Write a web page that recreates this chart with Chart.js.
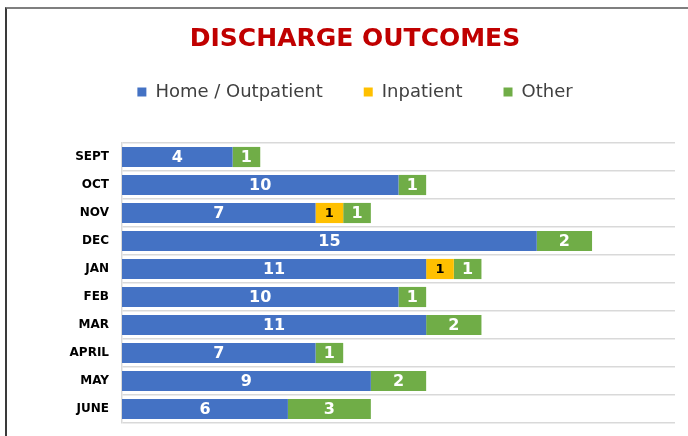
<!DOCTYPE html>
<html>
<head>
<meta charset="utf-8">
<script src="https://cdn.jsdelivr.net/npm/chart.js@4.4.1/dist/chart.umd.min.js"></script>
<style>
  html, body { margin: 0; padding: 0; background: #fff; }
  #wrap { position: relative; width: 688px; height: 436px; overflow: hidden; }
  #frame { position: absolute; left: 5px; top: 7px; width: 700px; height: 440px;
           border-top: 2px solid #7f7f7f; border-left: 2px solid #3a3a3a; }
  #chart-box { position: absolute; left: 0; top: 0; width: 688px; height: 436px; }
</style>
</head>
<body>
<div id="wrap">
  <div id="frame"></div>
  <div id="chart-box"><canvas id="discharge-chart"></canvas></div>
</div>
<script>
const months = ['SEPT', 'OCT', 'NOV', 'DEC', 'JAN', 'FEB', 'MAR', 'APRIL', 'MAY', 'JUNE'];
const homeOutpatient = [4, 10, 7, 15, 11, 10, 11, 7, 9, 6];
const inpatient = [0, 0, 1, 0, 1, 0, 0, 0, 0, 0];
const other = [1, 1, 1, 2, 1, 1, 2, 1, 2, 3];

const FONT = "'DejaVu Sans', sans-serif";

// value labels in the middle of each segment, zeros are left out like the original
const segmentLabels = {
  id: 'segmentLabels',
  afterDatasetsDraw(chart) {
    const ctx = chart.ctx;
    ctx.save();
    ctx.textAlign = 'center';
    ctx.textBaseline = 'middle';
    chart.data.datasets.forEach((ds, di) => {
      const meta = chart.getDatasetMeta(di);
      meta.data.forEach((bar, i) => {
        const v = ds.data[i];
        if (!v) return;
        ctx.fillStyle = ds.labelColor;
        ctx.font = ds.labelFont;
        ctx.fillText(String(v), (bar.x + bar.base) / 2, bar.y + 1);
      });
    });
    ctx.restore();
  }
};

new Chart(document.getElementById('discharge-chart').getContext('2d'), {
  type: 'bar',
  data: {
    labels: months,
    datasets: [
      { label: 'Home / Outpatient', data: homeOutpatient, backgroundColor: '#4472C4',
        labelColor: '#ffffff', labelFont: `bold 16px ${FONT}` },
      { label: 'Inpatient', data: inpatient, backgroundColor: '#FFC000',
        labelColor: '#000000', labelFont: `bold 13px ${FONT}` },
      { label: 'Other', data: other, backgroundColor: '#70AD47',
        labelColor: '#ffffff', labelFont: `bold 16px ${FONT}` }
    ]
  },
  options: {
    indexAxis: 'y',
    responsive: true,
    maintainAspectRatio: false,
    animation: false,
    categoryPercentage: 1,
    barPercentage: 0.72,
    // title and legend sit right of the canvas centre in the original, hence the uneven sides
    layout: { padding: { left: 35, right: 13, top: 0, bottom: 13 } },
    plugins: {
      title: {
        display: true,
        text: 'DISCHARGE OUTCOMES',
        color: '#C00000',
        font: { family: FONT, size: 25, weight: 'bold' },
        padding: { top: 24, bottom: -12 }
      },
      legend: {
        position: 'top',
        labels: { font: { family: FONT, size: 18 }, color: '#404040', boxWidth: 9, boxHeight: 9, padding: 41 }
      },
      tooltip: { enabled: false }
    },
    scales: {
      x: {
        stacked: true, min: 0, max: 20, position: 'top',
        grid: { display: false }, border: { display: false },
        ticks: { display: false },
        afterFit: (s) => { s.height = 32; }
      },
      y: {
        stacked: true,
        // the gap before the labels comes from an invisible tick, tick padding would pad the whole chart
        grid: { color: '#d9d9d9', lineWidth: 1.5, drawTicks: true, tickLength: 13, tickColor: 'transparent' },
        border: { color: '#d9d9d9', width: 1.5 },
        ticks: { color: '#000', padding: 0, font: { family: FONT, size: 12, weight: 'bold' } },
        afterFit: (s) => { s.width = 87; }
      }
    }
  },
  plugins: [segmentLabels]
});
</script>
</body>
</html>
